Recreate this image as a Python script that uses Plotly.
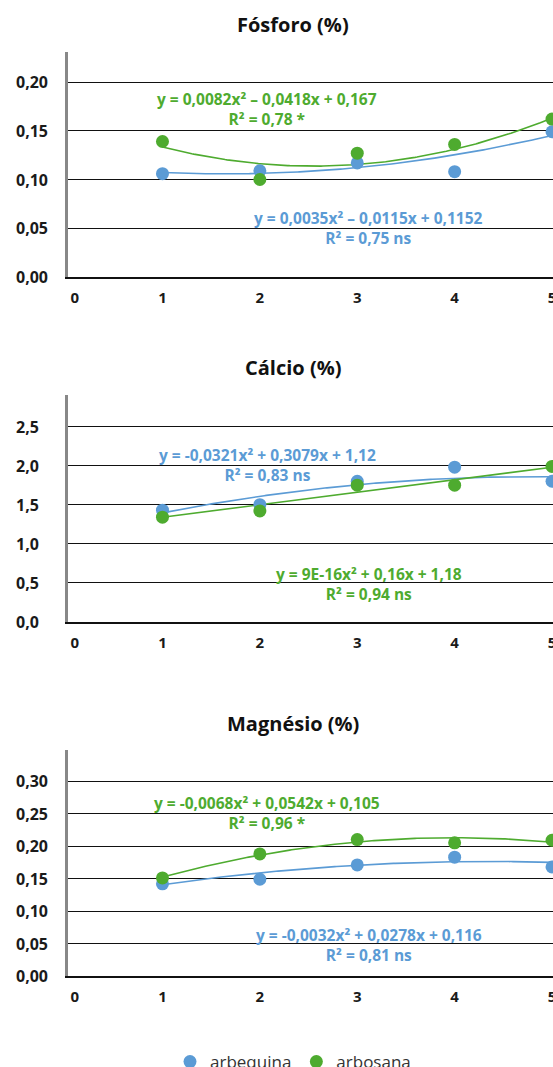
import numpy as np
import plotly.graph_objects as go

W, H = 553, 1067
FONT = "Open Sans"
BLUE = "#5B9BD5"
GREEN = "#4EAB2F"

x_vals = [1, 2, 3, 4, 5]
x_ticks = ["0", "1", "2", "3", "4", "5"]
series_names = ["arbequina", "arbosana"]

titles = ["Fósforo (%)", "Cálcio (%)", "Magnésio (%)"]

fosforo_arbequina = [0.106, 0.109, 0.117, 0.108, 0.149]
fosforo_arbosana = [0.139, 0.100, 0.127, 0.136, 0.162]
calcio_arbequina = [1.43, 1.50, 1.80, 1.98, 1.80]
calcio_arbosana = [1.34, 1.42, 1.75, 1.75, 1.99]
magnesio_arbequina = [0.142, 0.149, 0.171, 0.183, 0.168]
magnesio_arbosana = [0.151, 0.188, 0.210, 0.205, 0.209]

# quadratic trend coefficients (a, b, c) as printed on the chart
fosforo_coef = {"arbequina": (0.0035, -0.0115, 0.1152), "arbosana": (0.0082, -0.0418, 0.167)}
calcio_coef = {"arbequina": (-0.0321, 0.3079, 1.12), "arbosana": (9e-16, 0.16, 1.18)}
magnesio_coef = {"arbequina": (-0.0032, 0.0278, 0.116), "arbosana": (-0.0068, 0.0542, 0.105)}

fosforo_labels = {"arbequina": "y = 0,0035x² – 0,0115x + 0,1152<br>R² = 0,75 ns",
                  "arbosana": "y = 0,0082x² – 0,0418x + 0,167<br>R² = 0,78 *"}
calcio_labels = {"arbequina": "y = -0,0321x² + 0,3079x + 1,12<br>R² = 0,83 ns",
                 "arbosana": "y = 9E-16x² + 0,16x + 1,18<br>R² = 0,94 ns"}
magnesio_labels = {"arbequina": "y = -0,0032x² + 0,0278x + 0,116<br>R² = 0,81 ns",
                   "arbosana": "y = -0,0068x² + 0,0542x + 0,105<br>R² = 0,96 *"}

y_ticks = [[0, 0.05, 0.10, 0.15, 0.20], [0, 0.5, 1.0, 1.5, 2.0, 2.5],
           [0, 0.05, 0.10, 0.15, 0.20, 0.25, 0.30]]
y_fmt = ["{:.2f}", "{:.1f}", "{:.2f}"]
y_max = [0.2308, 2.903, 0.348]

# label positions (x, y in data units) per panel
label_pos = [
    {"arbosana": (2.07, 0.172), "arbequina": (3.12, 0.0503)},
    {"arbequina": (2.08, 2.014), "arbosana": (3.12, 0.486)},
    {"arbosana": (2.07, 0.251), "arbequina": (3.12, 0.047)},
]

panels = [
    (fosforo_arbequina, fosforo_arbosana, fosforo_coef, fosforo_labels),
    (calcio_arbequina, calcio_arbosana, calcio_coef, calcio_labels),
    (magnesio_arbequina, magnesio_arbosana, magnesio_coef, magnesio_labels),
]

# pixel layout of panels (top, bottom)
panel_px = [(52, 277), (395, 622), (750, 976)]
x_left_px = 68

fig = go.Figure()
annotations = []
colors = {"arbequina": BLUE, "arbosana": GREEN}
xs_fine = np.linspace(1, 5, 200)

for i, (arbeq, arbos, coef, labels) in enumerate(panels):
    ax = "" if i == 0 else str(i + 1)
    xref, yref = "x" + ax, "y" + ax
    data = {"arbequina": arbeq, "arbosana": arbos}
    for name in series_names:
        a, b, c = coef[name]
        fig.add_trace(go.Scatter(
            x=xs_fine, y=a * xs_fine ** 2 + b * xs_fine + c, mode="lines",
            line=dict(color=colors[name], width=1.6), showlegend=False,
            hoverinfo="skip", xaxis=xref, yaxis=yref))
    for name in series_names:
        fig.add_trace(go.Scatter(
            x=x_vals, y=data[name], mode="markers", name=name,
            marker=dict(color=colors[name], size=13),
            showlegend=(i == 2), xaxis=xref, yaxis=yref, cliponaxis=False))
        lx, ly = label_pos[i][name]
        annotations.append(dict(
            x=lx, y=ly, xref=xref, yref=yref, text=labels[name], showarrow=False,
            font=dict(family=FONT, size=15.5, color=colors[name], weight="bold"),
            align="center", xanchor="center", yanchor="middle"))
    top, bot = panel_px[i]
    dom = [1 - bot / H, 1 - top / H]
    fig.layout["xaxis" + ax] = dict(
        domain=[x_left_px / W, 1], range=[0.03, 5.01], anchor=yref, automargin=False,
        tickvals=[0.1, 1, 2, 3, 4, 5], ticktext=x_ticks,
        showgrid=False, zeroline=False, showline=True, linecolor="#111", linewidth=1.5,
        ticks="", ticklabelstandoff=6, ticklabeloverflow="allow",
        tickfont=dict(family=FONT, size=15, color="#1a1a1a", weight="bold"))
    fig.layout["yaxis" + ax] = dict(
        domain=dom, range=[0, y_max[i]], anchor=xref, automargin=False,
        tickvals=y_ticks[i], showticklabels=False,
        showgrid=True, gridcolor="#111", gridwidth=1, zeroline=False,
        showline=True, linecolor="#888", linewidth=2.5)
    for v in y_ticks[i]:
        annotations.append(dict(
            x=14 / W, xref="paper", y=v, yref=yref, xanchor="left", yanchor="middle",
            text=y_fmt[i].format(v).replace(".", ","), showarrow=False,
            font=dict(family=FONT, size=16, color="#1a1a1a", weight="bold")))
    annotations.append(dict(
        x=293 / W, xref="paper", y=1 - (top - 27) / H, yref="paper",
        text=titles[i], showarrow=False, xanchor="center", yanchor="middle",
        font=dict(family=FONT, size=20, color="#111", weight="bold")))

fig.update_layout(
    width=W, height=H, margin=dict(l=0, r=0, t=0, b=0, autoexpand=False),
    paper_bgcolor="white", plot_bgcolor="white",
    annotations=annotations,
    legend=dict(orientation="h", x=293 / W, xanchor="center", y=1 - 1062 / H, yanchor="middle",
                font=dict(family=FONT, size=17, color="#333"), itemwidth=30,
                traceorder="normal", tracegroupgap=0),
)

fig.write_html("out.html", config={"displayModeBar": False},
               post_script="document.body.style.margin='0';document.body.style.overflow='hidden';")
